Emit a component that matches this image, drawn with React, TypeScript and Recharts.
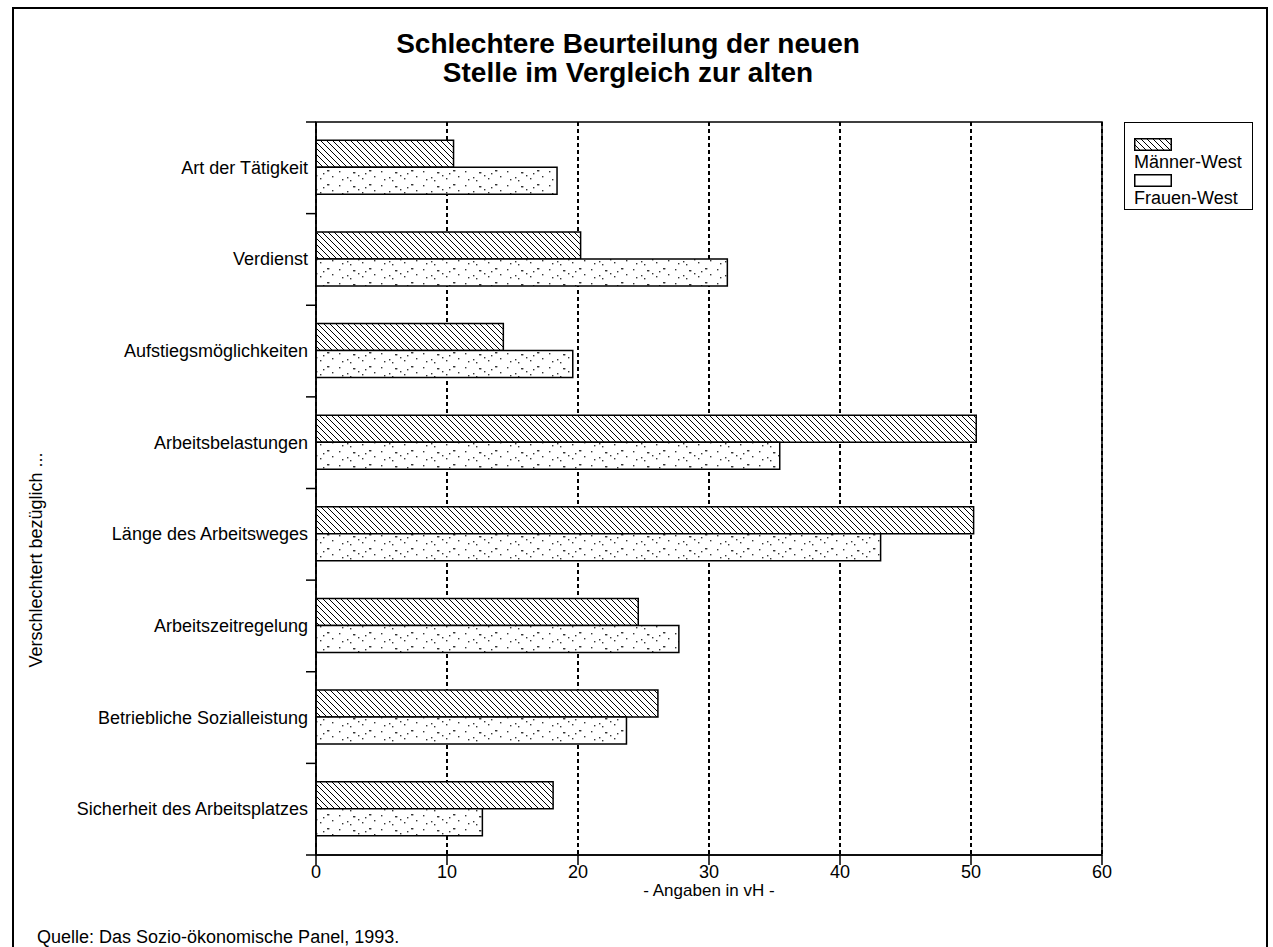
import {
  Bar,
  BarChart,
  CartesianGrid,
  ReferenceArea,
  XAxis,
  YAxis,
} from "recharts";

const categories = [
  "Art der Tätigkeit",
  "Verdienst",
  "Aufstiegsmöglichkeiten",
  "Arbeitsbelastungen",
  "Länge des Arbeitsweges",
  "Arbeitszeitregelung",
  "Betriebliche Sozialleistung",
  "Sicherheit des Arbeitsplatzes",
];
const maennerWest = [10.5, 20.2, 14.3, 50.4, 50.2, 24.6, 26.1, 18.1];
const frauenWest = [18.4, 31.4, 19.6, 35.4, 43.1, 27.7, 23.7, 12.7];
const xTicks = [0, 10, 20, 30, 40, 50, 60];

const data = categories.map((name, i) => ({
  name,
  maenner: maennerWest[i],
  frauen: frauenWest[i],
}));

const W = 1273;
const H = 947;
const Y_WIDTH = 316;
const PLOT_TOP = 122;
const PLOT_BOTTOM = 855;
const X_HEIGHT = 60;
const BAND = (PLOT_BOTTOM - PLOT_TOP) / categories.length;
const FONT = "'Liberation Sans', Arial, Helvetica, sans-serif";

// sparse dots for the "Frauen" fill
const dotSpots = [
  [3, 3], [11, 9], [17, 4], [18, 4], [26, 10], [33, 2], [34, 2],
  [6, 11], [22, 7], [38, 8], [29, 5], [14, 12],
];

const CategoryTick = (props: any) => {
  const { y, payload, index } = props;
  return (
    <g>
      <line x1={Y_WIDTH - 10} x2={Y_WIDTH} y1={y - BAND / 2} y2={y - BAND / 2} stroke="#000" strokeWidth={1.5} />
      {index === categories.length - 1 && (
        <line x1={Y_WIDTH - 10} x2={Y_WIDTH} y1={y + BAND / 2} y2={y + BAND / 2} stroke="#000" strokeWidth={1.5} />
      )}
      <text x={Y_WIDTH - 8} y={y} textAnchor="end" dominantBaseline="central" fontSize={18} fontFamily={FONT} fill="#000">
        {payload.value}
      </text>
    </g>
  );
};

const Swatch = ({ fill }: { fill: string }) => (
  <svg width={38} height={13} style={{ display: "block" }}>
    <defs>
      <pattern id="lg-hatch" patternUnits="userSpaceOnUse" width="6" height="6">
        <rect width="6" height="6" fill="#fff" />
        <path d="M-1,-1 L7,7 M-1,5 L1,7 M5,-1 L7,1" stroke="#000" strokeWidth="1" />
      </pattern>
    </defs>
    <rect x={0.75} y={0.75} width={36.5} height={11.5} fill={fill} stroke="#000" strokeWidth={1.5} />
  </svg>
);

export default function App() {
  return (
    <div style={{ position: "absolute", left: 0, top: 0, width: W, height: H, background: "#fff", fontFamily: FONT, color: "#000", overflow: "hidden" }}>
      {/* outer frame */}
      <div style={{ position: "absolute", left: 12, top: 7, width: 1252, height: 960, borderLeft: "2px solid #000", borderTop: "2px solid #000", borderRight: "2px solid #000" }} />

      <div style={{ position: "absolute", left: 0, top: 29, width: 1256, textAlign: "center", fontWeight: "bold", fontSize: 28, lineHeight: "29px" }}>
        Schlechtere Beurteilung der neuen
        <br />
        Stelle im Vergleich zur alten
      </div>

      <div style={{ position: "absolute", left: 0, top: 0 }}>
        <BarChart
          width={W}
          height={H}
          data={data}
          layout="vertical"
          margin={{ top: PLOT_TOP, right: W - 1102, bottom: H - PLOT_BOTTOM - X_HEIGHT, left: 0 }}
          barCategoryGap="20%"
          barGap={0}
        >
          <defs>
            <pattern id="hatch" patternUnits="userSpaceOnUse" width="6" height="6">
              <rect width="6" height="6" fill="#fff" />
              <path d="M-1,-1 L7,7 M-1,5 L1,7 M5,-1 L7,1" stroke="#000" strokeWidth="1" />
            </pattern>
            <pattern id="dots" patternUnits="userSpaceOnUse" width="42" height="14">
              <rect width="42" height="14" fill="#fff" />
              {dotSpots.map(([dx, dy], i) => (
                <rect key={i} x={dx} y={dy} width={1.4} height={1.4} fill="#333" />
              ))}
            </pattern>
          </defs>
          <CartesianGrid horizontal={false} stroke="#000" strokeWidth={2} strokeDasharray="4 3" />
          <XAxis
            type="number"
            domain={[0, 60]}
            ticks={xTicks}
            interval={0}
            height={X_HEIGHT}
            tickSize={10}
            tickMargin={0}
            axisLine={{ stroke: "#000", strokeWidth: 1.5 }}
            tickLine={{ stroke: "#000", strokeWidth: 1.5 }}
            tick={{ fill: "#000", fontSize: 18, fontFamily: FONT }}
          />
          <YAxis
            type="category"
            dataKey="name"
            width={Y_WIDTH}
            interval={0}
            tickLine={false}
            axisLine={{ stroke: "#000", strokeWidth: 1.5 }}
            tick={<CategoryTick />}
          />
          <ReferenceArea x1={0} x2={60} fill="none" stroke="#000" strokeWidth={1.5} ifOverflow="visible" />
          <Bar dataKey="maenner" fill="url(#hatch)" stroke="#000" strokeWidth={1.5} isAnimationActive={false} />
          <Bar dataKey="frauen" fill="url(#dots)" stroke="#000" strokeWidth={1.5} isAnimationActive={false} />
        </BarChart>
      </div>

      {/* legend */}
      <div style={{ position: "absolute", left: 1124, top: 122, width: 129, height: 88, border: "1.5px solid #000", fontSize: 18, lineHeight: "18px", paddingLeft: 9, boxSizing: "border-box" }}>
        <div style={{ marginTop: 15 }}><Swatch fill="url(#lg-hatch)" /></div>
        <div style={{ marginTop: 2 }}>Männer-West</div>
        <div style={{ marginTop: 3 }}><Swatch fill="#fff" /></div>
        <div style={{ marginTop: 2 }}>Frauen-West</div>
      </div>

      <div style={{ position: "absolute", left: 709, top: 881, transform: "translateX(-50%)", fontSize: 17, whiteSpace: "nowrap" }}>
        - Angaben in vH -
      </div>

      <div style={{ position: "absolute", left: 36, top: 560, transform: "translate(-50%, -50%) rotate(-90deg)", fontSize: 18, whiteSpace: "nowrap" }}>
        Verschlechtert bezüglich ...
      </div>

      <div style={{ position: "absolute", left: 37, top: 927, fontSize: 18, whiteSpace: "nowrap" }}>
        Quelle: Das Sozio-ökonomische Panel, 1993.
      </div>
    </div>
  );
}
